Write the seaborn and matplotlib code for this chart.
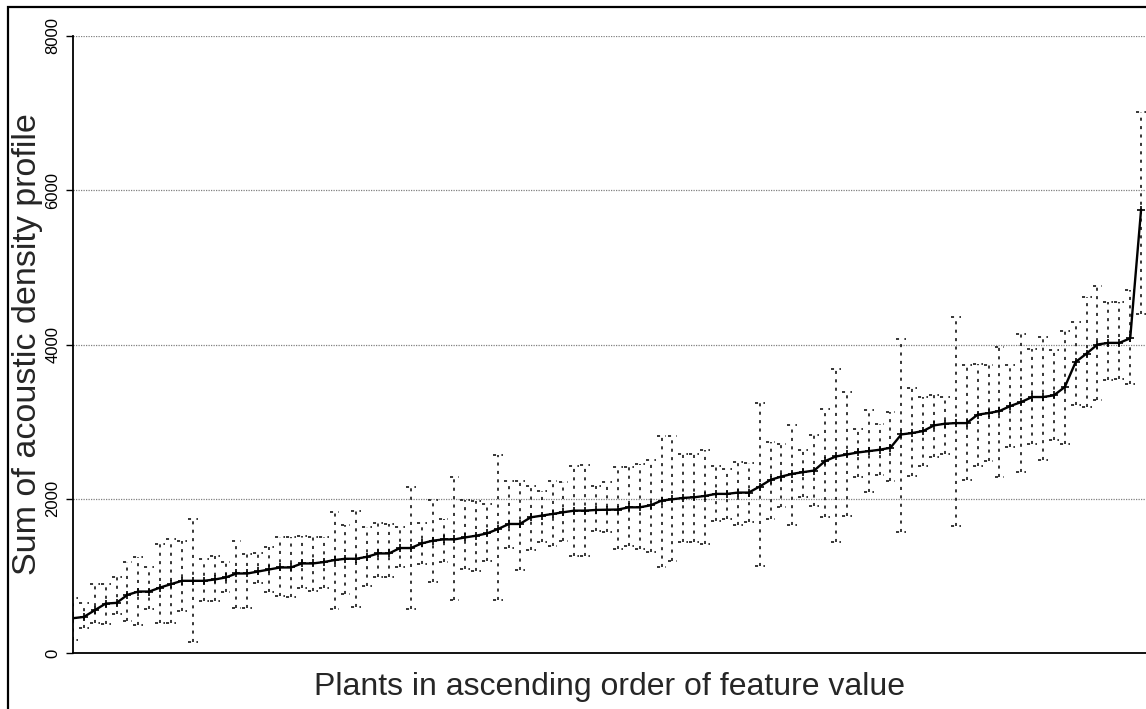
import numpy as np
import pandas as pd
import seaborn as sns
import matplotlib.pyplot as plt
from matplotlib.patches import Rectangle

# mean value per plant (sorted ascending), with upper / lower ends of the bars
mean_values = [451, 468, 555, 641, 650, 754, 797, 797, 849, 893, 936, 936, 936, 953, 979, 1031, 1031,
               1057, 1083, 1109, 1109, 1161, 1161, 1179, 1205, 1222, 1222, 1248, 1291, 1291, 1361, 1361, 1421,
               1456, 1473, 1473, 1499, 1521, 1551, 1608, 1673, 1673, 1759, 1781, 1803, 1825, 1846, 1846, 1855,
               1858, 1860, 1889, 1889, 1915, 1976, 1993, 2011, 2019, 2037, 2063, 2063, 2080, 2080, 2158, 2245,
               2288, 2323, 2345, 2366, 2488, 2548, 2574, 2600, 2617, 2635, 2661, 2834, 2852, 2878, 2951, 2973,
               2981, 2981, 3090, 3111, 3137, 3202, 3254, 3319, 3319, 3341, 3449, 3774, 3883, 4000, 4021, 4021,
               4080, 5750]

upper_values = [719, 654, 893, 893, 988, 1174, 1239, 1109, 1413, 1478, 1456, 1733, 1218, 1261, 1174, 1456, 1283,
                1291, 1378, 1499, 1499, 1521, 1508, 1499, 1824, 1664, 1846, 1638, 1681, 1673, 1629, 2149, 1681,
                1985, 1738, 2279, 1985, 1976, 1933, 2570, 2236, 2236, 2171, 2106, 2236, 2214, 2431, 2444, 2171,
                2214, 2409, 2409, 2453, 2496, 2808, 2808, 2583, 2583, 2635, 2431, 2388, 2474, 2461, 3241, 2734,
                2713, 2951, 2626, 2821, 3168, 3688, 3385, 2908, 3146, 2973, 3124, 4065, 3436, 3319, 3341, 3319,
                4359, 3731, 3753, 3731, 3969, 3731, 4142, 3948, 4099, 3926, 4177, 4294, 4610, 4758, 4554, 4554,
                4706, 7016]

lower_values = [169, 329, 394, 373, 503, 416, 364, 568, 394, 394, 546, 147, 676, 676, 785, 589, 589,
                914, 797, 741, 728, 849, 806, 849, 568, 763, 590, 871, 979, 979, 1109, 568, 1153,
                915, 1174, 685, 1088, 1066, 1196, 685, 1361, 1075, 1335, 1434, 1391, 1456, 1261, 1261, 1577,
                1565, 1348, 1391, 1348, 1304, 1109, 1196, 1434, 1434, 1413, 1716, 1738, 1664, 1695, 1122, 1738,
                1889, 1664, 2028, 1911, 1760, 1434, 1781, 2279, 2084, 2314, 2236, 1573, 2301, 2431, 2539, 2583,
                1650, 2245, 2431, 2487, 2280, 2669, 2344, 2713, 2505, 2756, 2713, 3211, 3189, 3276, 3536, 3558,
                3484, 4400]

y_ticks = [0, 2000, 4000, 6000, 8000]

df = pd.DataFrame({"plant": np.arange(len(mean_values)),
                   "mean": mean_values, "upper": upper_values, "lower": lower_values})

sns.set_style("white")
plt.rcParams['font.family'] = ['Liberation Sans', 'DejaVu Sans']

fig = plt.figure(figsize=(11.46, 7.09), dpi=100)
ax = fig.add_axes([73 / 1146, 56 / 709, 1 - 73 / 1146, 617 / 709])

# dashed error bars with dashed caps
dash = (0, (2, 3.5))
ax.vlines(df["plant"], df["lower"], df["upper"], colors="black", linestyles=dash, lw=1.1)
ax.hlines(df["upper"], df["plant"] - 0.45, df["plant"] + 0.45, colors="black", linestyles=dash, lw=1.1)
ax.hlines(df["lower"], df["plant"] - 0.45, df["plant"] + 0.45, colors="black", linestyles=dash, lw=1.1)

sns.lineplot(data=df, x="plant", y="mean", ax=ax, color="black", lw=1.7,
             marker="+", markersize=6, markeredgewidth=1.2, markeredgecolor="black")

ax.set_xlim(0, 98.45)
ax.set_ylim(0, 8000)
ax.set_xticks([])
ax.set_yticks(y_ticks)
ax.set_yticklabels([str(t) for t in y_ticks], rotation=90, va="center", fontsize=12)
ax.tick_params(axis="y", length=5, width=1, direction="out", pad=4, left=True, colors="black")
ax.yaxis.grid(True, color="#808080", lw=0.9, linestyle=(0, (1, 1)))
ax.set_axisbelow(True)

for side in ["top", "right"]:
    ax.spines[side].set_visible(False)
for side in ["left", "bottom"]:
    ax.spines[side].set_color("black")
    ax.spines[side].set_linewidth(1.3)

ax.set_ylabel("Sum of acoustic density profile", fontsize=24.5, labelpad=2)
ax.set_xlabel("Plants in ascending order of feature value", fontsize=23, labelpad=14)

# outer frame of the figure (cut off on the right)
fig.patches.append(Rectangle((8 / 1146, -0.05), 1.2, (709 - 7) / 709 + 0.05, fill=False,
                             edgecolor="black", lw=1.6, transform=fig.transFigure, figure=fig))

fig.savefig("out.png", dpi=100)
